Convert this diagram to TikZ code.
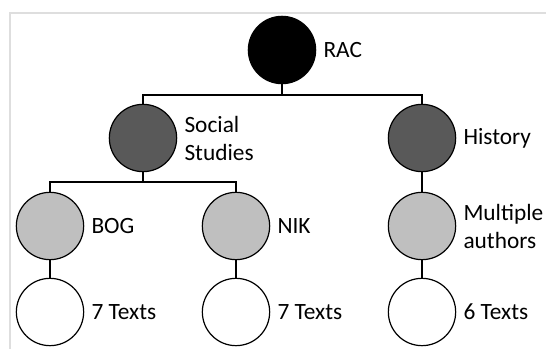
\documentclass[tikz,border=0pt]{standalone}
\usepackage{fontspec}
\setmainfont{Carlito}
\definecolor{darkfill}{HTML}{595959}
\definecolor{lightfill}{HTML}{BFBFBF}
\definecolor{framegray}{HTML}{DEDEDE}
\begin{document}
\begin{tikzpicture}[x=0.75pt,y=-0.75pt,
  nd/.style={circle,draw=black,line width=0.9pt,inner sep=0pt,minimum size=50.5pt},
  lbl/.style={anchor=west,inner sep=0pt,align=left,font=\fontsize{17.5}{21}\selectfont},
  conn/.style={draw=black,line width=0.9pt}]
\useasboundingbox (0,0) rectangle (546,349);
\draw[framegray,line width=1.5pt] (546,13) -- (10,13) -- (10,349);
% level 1
\node[nd,fill=black] (rac) at (282,50) {};
% level 2
\node[nd,fill=darkfill] (soc) at (143,138) {};
\node[nd,fill=darkfill] (his) at (422,138) {};
% level 3
\node[nd,fill=lightfill] (bog) at (50,226) {};
\node[nd,fill=lightfill] (nik) at (236,226) {};
\node[nd,fill=lightfill] (mul) at (422,226) {};
% level 4
\node[nd,fill=white] (t1) at (50,312) {};
\node[nd,fill=white] (t2) at (236,312) {};
\node[nd,fill=white] (t3) at (422,312) {};
% labels
\node[lbl] (lrac) at ([xshift=5.25pt]rac.east) {RAC};
\node[lbl] (lsoc) at ([xshift=5.25pt]soc.east) {Social\\Studies};
\node[lbl] (lhis) at ([xshift=5.25pt]his.east) {History};
\node[lbl] (lbog) at ([xshift=5.25pt]bog.east) {BOG};
\node[lbl] (lnik) at ([xshift=5.25pt]nik.east) {NIK};
\node[lbl] (lmul) at ([xshift=5.25pt]mul.east) {Multiple\\authors};
\node[lbl] (lt1) at ([xshift=5.25pt]t1.east) {7 Texts};
\node[lbl] (lt2) at ([xshift=5.25pt]t2.east) {7 Texts};
\node[lbl] (lt3) at ([xshift=5.25pt]t3.east) {6 Texts};
% connectors
\coordinate (b1) at (282,95);
\coordinate (b2) at (143,182);
\draw[conn] (rac.south) -- (b1) -| (soc.north);
\draw[conn] (b1) -| (his.north);
\draw[conn] (soc.south) -- (b2) -| (bog.north);
\draw[conn] (b2) -| (nik.north);
\draw[conn] (his.south) -- (mul.north);
\draw[conn] (bog.south) -- (t1.north);
\draw[conn] (nik.south) -- (t2.north);
\draw[conn] (mul.south) -- (t3.north);
\end{tikzpicture}
\end{document}
